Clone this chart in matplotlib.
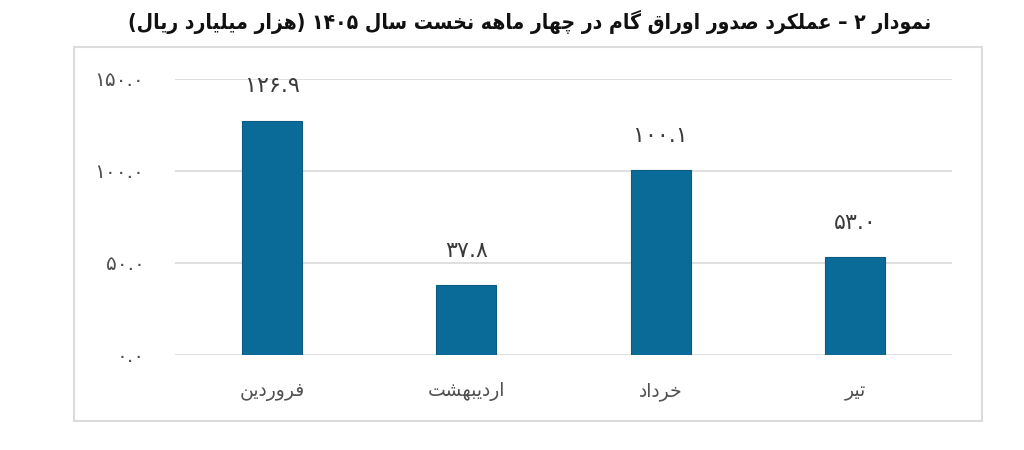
import re
import matplotlib
matplotlib.use("Agg")
import matplotlib.pyplot as plt
from matplotlib.patches import Rectangle

# ---------------- data ----------------
title_text = "نمودار ۲ – عملکرد صدور اوراق گام در چهار ماهه نخست سال ۱۴۰۵ (هزار میلیارد ریال)"
categories = ["فروردین", "اردیبهشت", "خرداد", "تیر"]
values = [126.9, 37.8, 100.1, 53.0]
y_ticks = [0, 50, 100, 150]

# ---------------- Persian shaping helpers ----------------
FORMS = {
    'ا': (0xFE8D, 0xFE8E), 'آ': (0xFE81, 0xFE82),
    'ب': (0xFE8F, 0xFE90, 0xFE91, 0xFE92), 'پ': (0xFB56, 0xFB57, 0xFB58, 0xFB59),
    'ت': (0xFE95, 0xFE96, 0xFE97, 0xFE98), 'ث': (0xFE99, 0xFE9A, 0xFE9B, 0xFE9C),
    'ج': (0xFE9D, 0xFE9E, 0xFE9F, 0xFEA0), 'چ': (0xFB7A, 0xFB7B, 0xFB7C, 0xFB7D),
    'ح': (0xFEA1, 0xFEA2, 0xFEA3, 0xFEA4), 'خ': (0xFEA5, 0xFEA6, 0xFEA7, 0xFEA8),
    'د': (0xFEA9, 0xFEAA), 'ذ': (0xFEAB, 0xFEAC), 'ر': (0xFEAD, 0xFEAE),
    'ز': (0xFEAF, 0xFEB0), 'ژ': (0xFB8A, 0xFB8B),
    'س': (0xFEB1, 0xFEB2, 0xFEB3, 0xFEB4), 'ش': (0xFEB5, 0xFEB6, 0xFEB7, 0xFEB8),
    'ص': (0xFEB9, 0xFEBA, 0xFEBB, 0xFEBC), 'ض': (0xFEBD, 0xFEBE, 0xFEBF, 0xFEC0),
    'ط': (0xFEC1, 0xFEC2, 0xFEC3, 0xFEC4), 'ظ': (0xFEC5, 0xFEC6, 0xFEC7, 0xFEC8),
    'ع': (0xFEC9, 0xFECA, 0xFECB, 0xFECC), 'غ': (0xFECD, 0xFECE, 0xFECF, 0xFED0),
    'ف': (0xFED1, 0xFED2, 0xFED3, 0xFED4), 'ق': (0xFED5, 0xFED6, 0xFED7, 0xFED8),
    'ک': (0xFB8E, 0xFB8F, 0xFB90, 0xFB91), 'گ': (0xFB92, 0xFB93, 0xFB94, 0xFB95),
    'ل': (0xFEDD, 0xFEDE, 0xFEDF, 0xFEE0), 'م': (0xFEE1, 0xFEE2, 0xFEE3, 0xFEE4),
    'ن': (0xFEE5, 0xFEE6, 0xFEE7, 0xFEE8), 'و': (0xFEED, 0xFEEE),
    'ه': (0xFEE9, 0xFEEA, 0xFEEB, 0xFEEC), 'ی': (0xFBFC, 0xFBFD, 0xFBFE, 0xFBFF),
    'ي': (0xFEF1, 0xFEF2, 0xFEF3, 0xFEF4),
}


def shape(text):
    out = []
    n = len(text)
    for i, ch in enumerate(text):
        if ch not in FORMS:
            out.append(ch)
            continue
        f = FORMS[ch]
        prev = text[i - 1] if i > 0 else None
        nxt = text[i + 1] if i + 1 < n else None
        jp = prev is not None and prev in FORMS and len(FORMS[prev]) == 4
        jn = len(f) == 4 and nxt is not None and nxt in FORMS
        if jp and jn:
            out.append(chr(f[3]))
        elif jp:
            out.append(chr(f[1]))
        elif jn:
            out.append(chr(f[2]))
        else:
            out.append(chr(f[0]))
    return "".join(out)


def fa(text):
    s = shape(text)[::-1]
    s = re.sub(r'[0-9\u06F0-\u06F9.]+', lambda m: m.group(0)[::-1], s)
    s = s.translate(str.maketrans({'(': ')', ')': '('}))
    return s


def fa_num(v, nd=1):
    s = f"{v:.{nd}f}"
    return s.translate(str.maketrans("0123456789", "۰۱۲۳۴۵۶۷۸۹"))


# ---------------- figure ----------------
plt.rcParams['font.family'] = ['DejaVu Sans']
W, H = 1024, 450
fig = plt.figure(figsize=(W / 100, H / 100), dpi=100)
fig.patch.set_facecolor('white')

# outer chart frame
fig.patches.append(Rectangle((74 / W, 1 - 421 / H), (982 - 74) / W, (421 - 47) / H,
                             transform=fig.transFigure, fill=False,
                             edgecolor='#dcdcdc', linewidth=1.5))

ax = fig.add_axes([175 / W, 1 - 355 / H, (952 - 175) / W, (355 - 78.5) / H])
x = list(range(len(categories)))
bars = ax.bar(x, values, width=0.31, color='#0b6b98', edgecolor='#0a5b82',
              linewidth=0.8, zorder=3)

ax.set_xlim(-0.5, len(categories) - 0.5)
ax.set_ylim(0, 150)
ax.set_yticks(y_ticks)
ax.set_yticklabels([fa_num(t) for t in y_ticks], fontsize=14.5, color='#505050')
ax.set_xticks(x)
ax.set_xticklabels([fa(c) for c in categories], fontsize=13.5, color='#505050')
ax.tick_params(axis='y', length=0, pad=22)
ax.tick_params(axis='x', length=0, pad=19.5)
ax.grid(axis='y', color='#d9d9d9', linewidth=1.2, zorder=0)
for sp in ax.spines.values():
    sp.set_visible(False)

for xi, v in zip(x, values):
    ax.annotate(fa_num(v), (xi, v), xytext=(0, 25), textcoords='offset points',
                ha='center', va='center', fontsize=16, color='#3a3a3a')

fig.text(530 / W, 1 - 22 / H, fa(title_text), ha='center', va='center',
         fontsize=15.1, fontweight='bold', color='#111111',
         family=['DejaVu Sans Condensed', 'DejaVu Sans'], fontstretch='condensed')

fig.savefig('out.png', dpi=100, facecolor='white')
